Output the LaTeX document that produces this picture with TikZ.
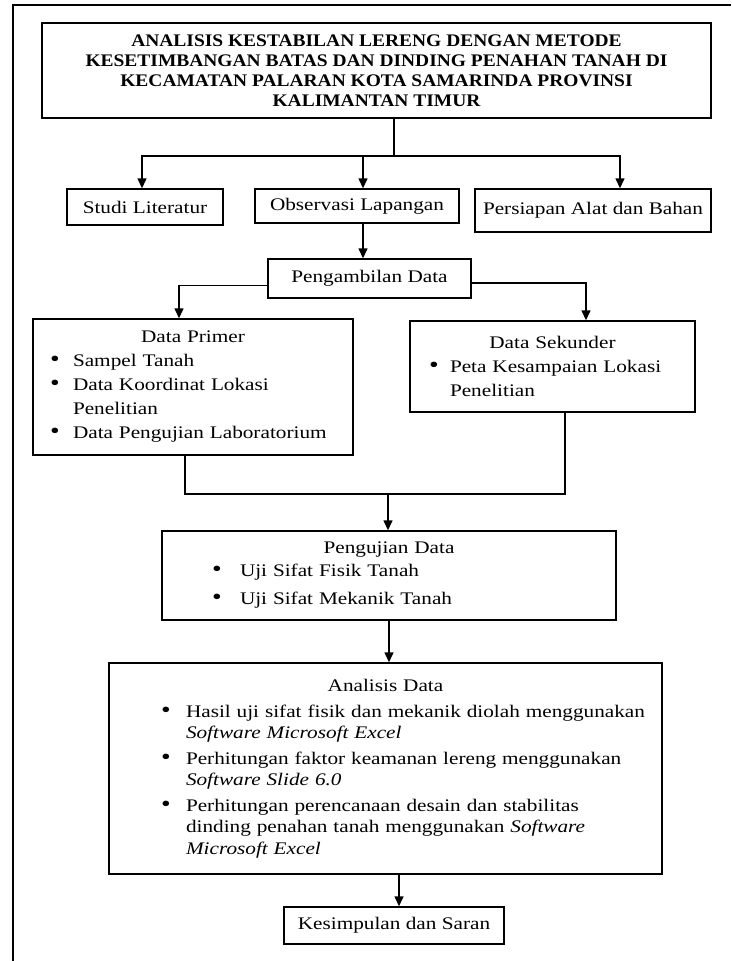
\documentclass[tikz,border=0pt]{standalone}
\usepackage{fontspec}
\setmainfont{Liberation Serif}[FakeStretch=1.2]
\newfontfamily\judulfont{Liberation Serif}[FakeStretch=1.1]
\usetikzlibrary{arrows.meta}
\setlength{\parindent}{0pt}

\newcommand{\butir}[2]{\par\hangindent=#2pt\hangafter=1\noindent\hspace*{#1pt}\makebox[\dimexpr#2pt-#1pt\relax][l]{\fontsize{23}{23}\selectfont\textbullet}\ignorespaces}

\begin{document}
\begin{tikzpicture}[x=1pt, y=-1pt,
  box/.style={draw, line width=1.4pt, inner sep=0pt, font=\fontsize{17.7}{24}\selectfont},
  daftar/.style={box, align=left},
  arr/.style={line width=1.4pt, -{Triangle[width=9pt,length=10pt]}},
  garis/.style={line width=1.4pt}]
  \useasboundingbox (0,0) rectangle (731,961);
  \draw[garis] (13,961) -- (13,5) -- (731,5);

  \node[box, align=center, font=\judulfont\bfseries\fontsize{17.7}{20}\selectfont, minimum width=669pt, minimum height=95pt] (judul) at (376.5,70.5)
    {ANALISIS KESTABILAN LERENG DENGAN METODE\\KESETIMBANGAN BATAS DAN DINDING PENAHAN TANAH DI\\KECAMATAN PALARAN KOTA SAMARINDA PROVINSI\\KALIMANTAN TIMUR};
  \node[box, minimum width=156pt, minimum height=36pt] (studi) at (145,207) {Studi Literatur};
  \node[box, minimum width=204pt, minimum height=34pt] (observasi) at (357,206) {Observasi Lapangan};
  \node[box, minimum width=236pt, minimum height=43pt] (persiapan) at (593,210.5) {Persiapan Alat dan Bahan};
  \node[box, minimum width=203pt, minimum height=39pt] (ambil) at (369.5,278.5) {Pengambilan Data};
  \node[daftar, text width=320pt, minimum height=136pt] (primer) at (193,387)
    {{\centering Data Primer\par}
     \butir{17}{40}Sampel Tanah
     \butir{17}{40}Data Koordinat Lokasi\newline Penelitian
     \butir{17}{40}Data Pengujian Laboratorium\par};
  \node[daftar, text width=285pt, minimum height=91pt] (sekunder) at (552.5,366.5)
    {{\centering Data Sekunder\par}
     \butir{19}{40}Peta Kesampaian Lokasi\newline Penelitian\par};
  \node[daftar, text width=454pt, minimum height=89pt, font=\fontsize{17.7}{23}\selectfont] (uji) at (389,575.5)
    {{\centering Pengujian Data\par}
     \butir{50}{78}Uji Sifat Fisik Tanah
     \par\vspace{5pt}\butir{50}{78}Uji Sifat Mekanik Tanah\par};
  \node[daftar, text width=553pt, minimum height=211pt, font=\fontsize{17.7}{21.5}\selectfont] (analisis) at (385.5,768.5)
    {\setlength{\parskip}{4pt}{\centering Analisis Data\par}
     \butir{52}{77}Hasil uji sifat fisik dan mekanik diolah menggunakan\newline\textit{Software Microsoft Excel}
     \butir{52}{77}Perhitungan faktor keamanan lereng menggunakan\newline\textit{Software Slide 6.0}
     \butir{52}{77}Perhitungan perencanaan desain dan stabilitas\newline dinding penahan tanah menggunakan \textit{Software}\newline\textit{Microsoft Excel}\par\vspace*{13pt}};
  \node[box, minimum width=220pt, minimum height=37pt] (simpulan) at (394,925.5) {Kesimpulan dan Saran};

  \coordinate (cabang) at (394,156);
  \coordinate (gabung) at (388,494);
  \draw[garis] ([xshift=17.5pt]judul.south) -- (cabang);
  \draw[arr] (cabang) -| ([xshift=-3pt]studi.north);
  \draw[arr] (cabang) -| ([xshift=6pt]observasi.north);
  \draw[arr] (cabang) -| ([xshift=27pt]persiapan.north);
  \draw[arr] ([xshift=6pt]observasi.south) -- ([xshift=6pt]observasi.south |- ambil.north);
  \draw[arr] ([yshift=-7pt]ambil.west) -| ([xshift=-14pt]primer.north);
  \draw[arr] ([yshift=-4.5pt]ambil.east) -| ([xshift=33.5pt]sekunder.north);
  \draw[garis] ([xshift=-8pt]primer.south) |- (gabung) -| ([xshift=12.5pt]sekunder.south);
  \draw[arr] (gabung) -- (gabung |- uji.north);
  \draw[arr] (uji.south) -- (uji.south |- analisis.north);
  \draw[arr] ([xshift=5pt]simpulan.north |- analisis.south) -- ([xshift=5pt]simpulan.north);
\end{tikzpicture}
\end{document}
